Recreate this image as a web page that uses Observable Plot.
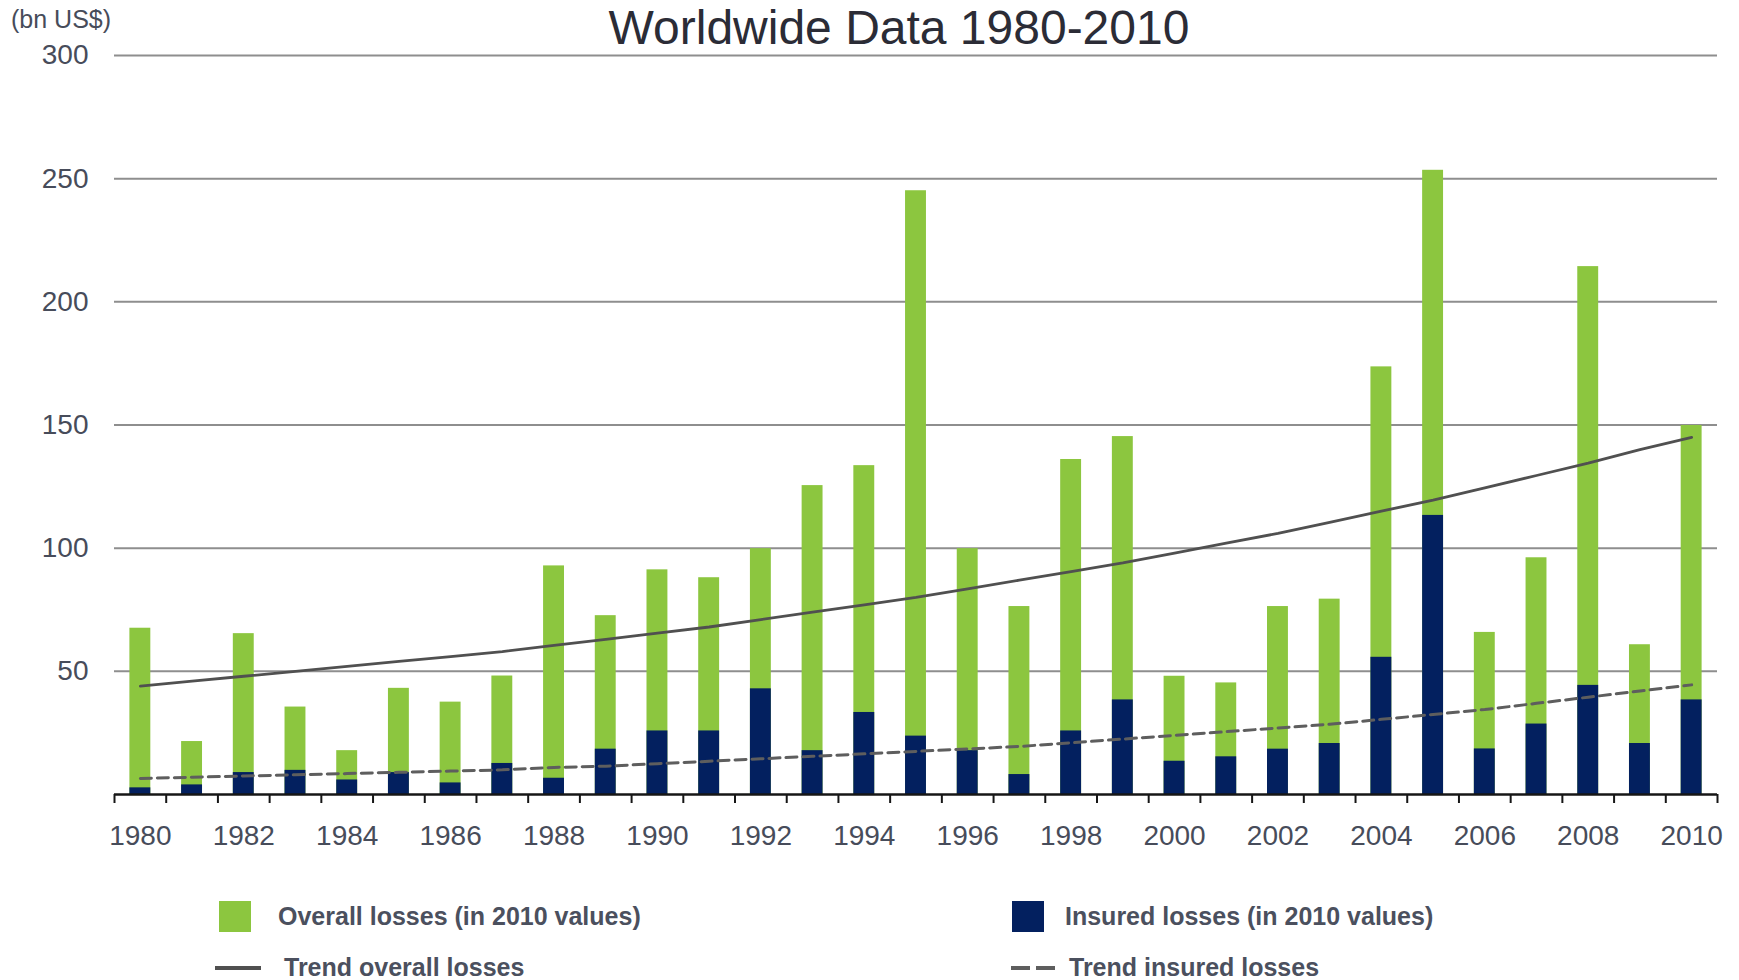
<!DOCTYPE html>
<html>
<head>
<meta charset="utf-8">
<script src="https://cdn.jsdelivr.net/npm/d3@7"></script>
<script src="https://cdn.jsdelivr.net/npm/@observablehq/plot@0.6"></script>
<style>
  body { margin: 0; background: #ffffff; }
  #wrap { position: relative; width: 1739px; height: 980px; overflow: hidden; background: #ffffff;
          font-family: "Liberation Sans", Arial, Helvetica, sans-serif; }
  #chart { position: absolute; left: 0; top: 0; }
  .title { position: absolute; left: 899px; top: 4px; transform: translateX(-50%); white-space: nowrap;
           font-size: 48px; line-height: 48px; color: #2b2c36; }
  .unit { position: absolute; left: 11px; top: 6px; font-size: 25px; line-height: 26px; color: #474c5a; white-space: nowrap; }
  .legend-item { position: absolute; white-space: nowrap; font-size: 25px; line-height: 20px; font-weight: bold; color: #4b505e; }
  .swatch { position: absolute; }
</style>
</head>
<body>
<div id="wrap">
  <div id="chart"></div>
  <div class="title" id="title"></div>
  <div class="unit" id="unit"></div>
  <div id="legend"></div>
</div>
<script>
// Natural catastrophes, overall and insured losses (bn US$, in 2010 values)
const years = [1980, 1981, 1982, 1983, 1984, 1985, 1986, 1987, 1988, 1989,
               1990, 1991, 1992, 1993, 1994, 1995, 1996, 1997, 1998, 1999,
               2000, 2001, 2002, 2003, 2004, 2005, 2006, 2007, 2008, 2009, 2010];
const overallLosses = [67.5, 21.5, 65.3, 35.5, 17.8, 43.1, 37.5, 48.1, 92.8, 72.6,
                       91.2, 88.0, 99.8, 125.4, 133.5, 245.1, 99.8, 76.3, 136.0, 145.3,
                       48.0, 45.3, 76.3, 79.3, 173.6, 253.4, 65.8, 96.1, 214.3, 60.8, 149.8];
const insuredLosses = [2.7, 3.9, 8.9, 9.8, 5.9, 8.9, 4.7, 12.6, 6.6, 18.4,
                       25.8, 25.8, 42.9, 17.8, 33.3, 23.7, 17.8, 8.1, 25.8, 38.4,
                       13.5, 15.3, 18.4, 20.7, 55.7, 113.3, 18.5, 28.6, 44.3, 20.7, 38.4];
const trendOverall = [44, 46, 48, 50, 52, 54, 56, 58, 60.5, 63,
                      65.5, 68, 71, 74, 77, 80, 83.5, 87, 90.5, 94,
                      98, 102, 106, 110.5, 115, 119.5, 124.5, 129.5, 134.5, 140, 145];
const trendInsured = [6.5, 7, 7.5, 8, 8.5, 9, 9.5, 10, 11, 11.5,
                      12.5, 13.5, 14.5, 15.5, 16.5, 17.5, 18.5, 19.5, 21, 22.5,
                      24, 25.5, 27, 28.5, 30.5, 32.5, 34.5, 37, 39.5, 42, 44.5];
const yTicks = [0, 50, 100, 150, 200, 250, 300];
const xLabelYears = [1980, 1982, 1984, 1986, 1988, 1990, 1992, 1994, 1996,
                     1998, 2000, 2002, 2004, 2006, 2008, 2010];
const titleText = "Worldwide Data 1980-2010";
const unitText = "(bn US$)";
const legendLabels = ["Overall losses (in 2010 values)", "Insured losses (in 2010 values)",
                      "Trend overall losses", "Trend insured losses"];

const GREEN = "#8cc63f";
const NAVY = "#03205f";

const rows = years.map((year, i) => ({
  year,
  overall: overallLosses[i],
  insured: insuredLosses[i],
  tOverall: trendOverall[i],
  tInsured: trendInsured[i]
}));
// tick marks sit between the yearly bars
const bandEdges = years.map(y => y - 0.5).concat([years[years.length - 1] + 0.5]);

const chart = Plot.plot({
  width: 1739,
  height: 860,
  marginTop: 55,
  marginBottom: 66,
  marginLeft: 114,
  marginRight: 22,
  style: {
    fontFamily: '"Liberation Sans", Arial, Helvetica, sans-serif',
    fontSize: "28px",
    color: "#474c5a",
    background: "transparent",
    overflow: "visible"
  },
  x: { type: "linear", domain: [years[0] - 0.5, years[years.length - 1] + 0.5] },
  y: { domain: [yTicks[0], yTicks[yTicks.length - 1]] },
  marks: [
    Plot.gridY(yTicks.slice(1), { stroke: "#8e8e8e", strokeOpacity: 1, strokeWidth: 2 }),
    // the zero line carries no label
    Plot.axisY(yTicks.slice(1), { tickSize: 0, tickPadding: 26, label: null, fontSize: 28 }),
    Plot.rectY(rows, { x1: d => d.year - 0.5, x2: d => d.year + 0.5, y: "overall",
                       fill: GREEN, insetLeft: 15.4, insetRight: 15.4 }),
    Plot.rectY(rows, { x1: d => d.year - 0.5, x2: d => d.year + 0.5, y: "insured",
                       fill: NAVY, insetLeft: 15.4, insetRight: 15.4 }),
    Plot.line(rows, { x: "year", y: "tOverall", stroke: "#505050", strokeWidth: 2.8 }),
    Plot.line(rows, { x: "year", y: "tInsured", stroke: "#5e5e5e", strokeWidth: 3,
                      strokeDasharray: "11,6" }),
    Plot.ruleY([0], { stroke: "#161616", strokeWidth: 2.5 }),
    Plot.axisX({ ticks: bandEdges, tickSize: 9, tickFormat: () => "", label: null,
                 stroke: "#161616", strokeWidth: 2 }),
    Plot.axisX({ ticks: xLabelYears, tickSize: 0, tickPadding: 31, label: null,
                 tickFormat: d => String(d), fontSize: 28 })
  ]
});
document.getElementById("chart").appendChild(chart);

document.getElementById("title").textContent = titleText;
document.getElementById("unit").textContent = unitText;

// Legend: two columns, swatches for the bars and short strokes for the trends
const legend = document.getElementById("legend");
const items = [
  { label: legendLabels[0], kind: "box", color: GREEN, sx: 219, sy: 901, tx: 278, ty: 906 },
  { label: legendLabels[1], kind: "box", color: NAVY, sx: 1012, sy: 901, tx: 1065, ty: 906 },
  { label: legendLabels[2], kind: "solid", color: "#505050", sx: 215, sy: 968, tx: 284, ty: 957 },
  { label: legendLabels[3], kind: "dash", color: "#5e5e5e", sx: 1011, sy: 968, tx: 1069, ty: 957 }
];
for (const it of items) {
  const sw = document.createElementNS("http://www.w3.org/2000/svg", "svg");
  sw.classList.add("swatch");
  if (it.kind === "box") {
    sw.setAttribute("width", 32); sw.setAttribute("height", 31);
    sw.style.left = it.sx + "px"; sw.style.top = it.sy + "px";
    const r = document.createElementNS("http://www.w3.org/2000/svg", "rect");
    r.setAttribute("width", 32); r.setAttribute("height", 31); r.setAttribute("fill", it.color);
    sw.appendChild(r);
  } else {
    sw.setAttribute("width", 46); sw.setAttribute("height", 8);
    sw.style.left = it.sx + "px"; sw.style.top = (it.sy - 4) + "px";
    const l = document.createElementNS("http://www.w3.org/2000/svg", "line");
    l.setAttribute("x1", 0); l.setAttribute("x2", it.kind === "dash" ? 44 : 46);
    l.setAttribute("y1", 4); l.setAttribute("y2", 4);
    l.setAttribute("stroke", it.color); l.setAttribute("stroke-width", 4);
    if (it.kind === "dash") l.setAttribute("stroke-dasharray", "19,6");
    sw.appendChild(l);
  }
  legend.appendChild(sw);
  const t = document.createElement("div");
  t.className = "legend-item";
  t.style.left = it.tx + "px"; t.style.top = it.ty + "px";
  t.textContent = it.label;
  legend.appendChild(t);
}
</script>
</body>
</html>
